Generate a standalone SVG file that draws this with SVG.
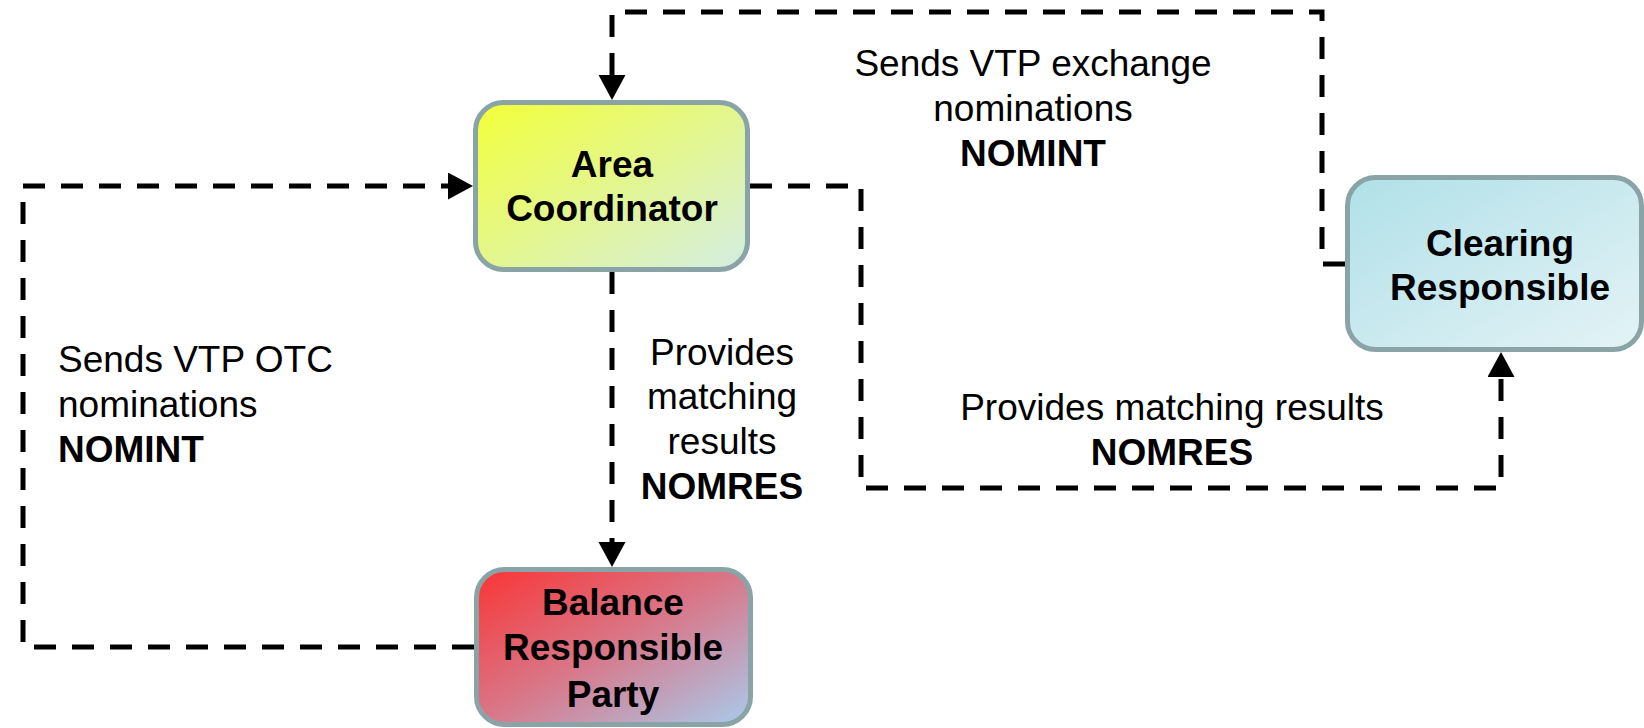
<svg xmlns="http://www.w3.org/2000/svg" width="1644" height="728" viewBox="0 0 1644 728">
<style>
.box{stroke:#8aa3a6;stroke-width:5}
.t{font-family:"Liberation Sans",Arial,sans-serif;font-size:37px;fill:#000}
.b{font-weight:bold}
.c{text-anchor:middle}
.conn{fill:none;stroke:#000;stroke-width:5;stroke-dasharray:22 16}
</style>
<defs>
<linearGradient id="gA" x1="0" y1="0" x2="1" y2="1">
<stop offset="0" stop-color="#f2ff38"/>
<stop offset="1" stop-color="#d4ede4"/>
</linearGradient>
<linearGradient id="gB" x1="0" y1="0" x2="1" y2="1">
<stop offset="0" stop-color="#fa3434"/>
<stop offset="0.5" stop-color="#d8788a"/>
<stop offset="1" stop-color="#a8cbec"/>
</linearGradient>
<linearGradient id="gC" x1="0" y1="0" x2="1" y2="1">
<stop offset="0" stop-color="#b0e0e8"/>
<stop offset="1" stop-color="#e4f3f6"/>
</linearGradient>
<marker id="arr" markerUnits="userSpaceOnUse" markerWidth="26" markerHeight="28" refX="0" refY="13.5" orient="auto">
<path d="M0,0 L25,13.5 L0,27 Z" fill="#000"/>
</marker>
</defs>
<g id="connectors">
<path class="conn" d="M474,647 L23,647 L23,186 L448,186" marker-end="url(#arr)"/>
<path class="conn" d="M1345,264 L1322,264 L1322,12 L612,12 L612,75" marker-end="url(#arr)"/>
<path class="conn" d="M750,186 L861,186 L861,488 L1501,488 L1501,377" marker-end="url(#arr)"/>
<path class="conn" d="M612,272 L612,542" marker-end="url(#arr)"/>
</g>
<g id="area-coordinator">
<rect class="box" x="475.5" y="102.5" width="272" height="167" rx="28" fill="url(#gA)"/>
<text class="t b c" x="612" y="177">Area</text>
<text class="t b c" x="612" y="221">Coordinator</text>
</g>
<g id="balance-responsible-party">
<rect class="box" x="476.5" y="569.5" width="274" height="155" rx="28" fill="url(#gB)"/>
<text class="t b c" x="613" y="615">Balance</text>
<text class="t b c" x="613" y="660">Responsible</text>
<text class="t b c" x="613" y="707">Party</text>
</g>
<g id="clearing-responsible">
<rect class="box" x="1347.5" y="177.5" width="294" height="172" rx="28" fill="url(#gC)"/>
<text class="t b c" x="1500" y="256">Clearing</text>
<text class="t b c" x="1500" y="300">Responsible</text>
</g>
<g id="labels">
<text class="t" x="58" y="372">Sends VTP OTC</text>
<text class="t" x="58" y="417">nominations</text>
<text class="t b" x="58" y="462">NOMINT</text>
<text class="t c" x="1033" y="76">Sends VTP exchange</text>
<text class="t c" x="1033" y="121">nominations</text>
<text class="t b c" x="1033" y="166">NOMINT</text>
<text class="t c" x="722" y="365">Provides</text>
<text class="t c" x="722" y="409">matching</text>
<text class="t c" x="722" y="454">results</text>
<text class="t b c" x="722" y="499">NOMRES</text>
<text class="t c" x="1172" y="420">Provides matching results</text>
<text class="t b c" x="1172" y="465">NOMRES</text>
</g>
</svg>
